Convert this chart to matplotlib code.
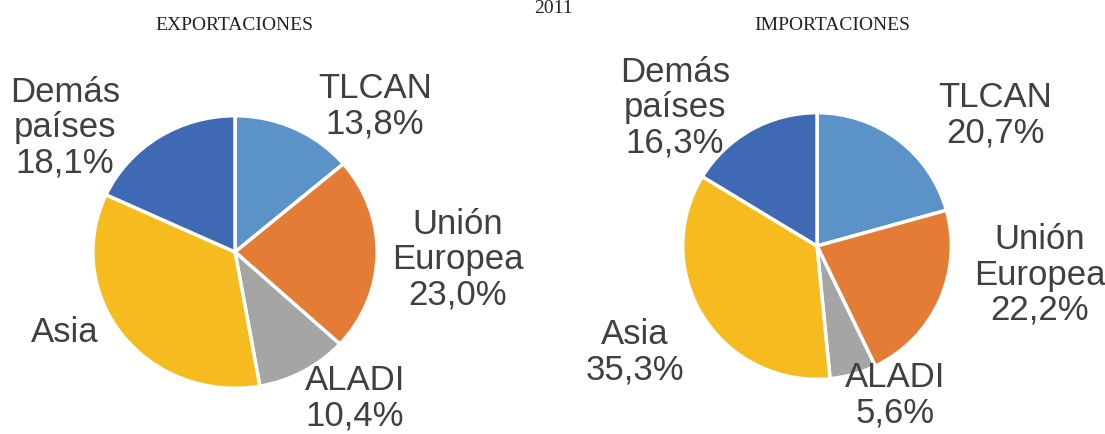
import matplotlib
matplotlib.use("Agg")
import matplotlib.pyplot as plt

# data
regiones = ["TLCAN", "Unión Europea", "ALADI", "Asia", "Demás países"]
exportaciones = [13.8, 23.0, 10.4, 34.7, 18.1]
importaciones = [20.7, 22.2, 5.6, 35.3, 16.3]
colores = ["#5b93c9", "#e57c35", "#a5a5a5", "#f5bb1f", "#3f6ab3"]

W, H = 1105, 434
fig = plt.figure(figsize=(W / 100, H / 100), dpi=100)
plt.rcParams["font.family"] = ["Liberation Sans", "DejaVu Sans"]


def px(x, y):
    return x / W, 1 - y / H


def pie_axes(cx, cy, rx, ry, valores):
    ax = fig.add_axes([(cx - rx) / W, (H - cy - ry) / H, 2 * rx / W, 2 * ry / H])
    ax.pie(valores, colors=colores, startangle=90, counterclock=False,
           wedgeprops=dict(edgecolor="white", linewidth=2.5))
    ax.set_aspect("auto")
    ax.set_xlim(-1.02, 1.02)
    ax.set_ylim(-1.02, 1.02)
    ax.axis("off")
    return ax


pie_axes(235, 252, 145, 139, exportaciones)
pie_axes(817, 246, 137, 136, importaciones)

# titles
serif = ["Liberation Serif", "DejaVu Serif"]
fig.text(*px(553, 0), "2011", ha="center", va="top", family=serif, fontsize=14, color="#222222")
fig.text(*px(234, 25), "EXPORTACIONES", ha="center", va="center", family=serif, fontsize=14, color="#222222")
fig.text(*px(832, 25), "IMPORTACIONES", ha="center", va="center", family=serif, fontsize=14, color="#222222")


def fmt(v):
    return f"{v:.1f}%".replace(".", ",")


# label positions (pixel centres)
pos_exp = [(375, 106), (458, 260), (355, 398), (65, 333), (65, 128)]
pos_imp = [(995, 115), (1040, 275), (895, 395), (635, 352), (675, 108)]

for i, reg in enumerate(regiones):
    nombre = reg.replace(" ", "\n")
    txt = nombre if reg == "Asia" else nombre + "\n" + fmt(exportaciones[i])
    fig.text(*px(*pos_exp[i]), txt, ha="center", va="center", fontsize=25,
             color="#404040", linespacing=1.08)
    txt = nombre + "\n" + fmt(importaciones[i])
    fig.text(*px(*pos_imp[i]), txt, ha="center", va="center", fontsize=25,
             color="#404040", linespacing=1.08)

fig.savefig("out.png", dpi=100)
